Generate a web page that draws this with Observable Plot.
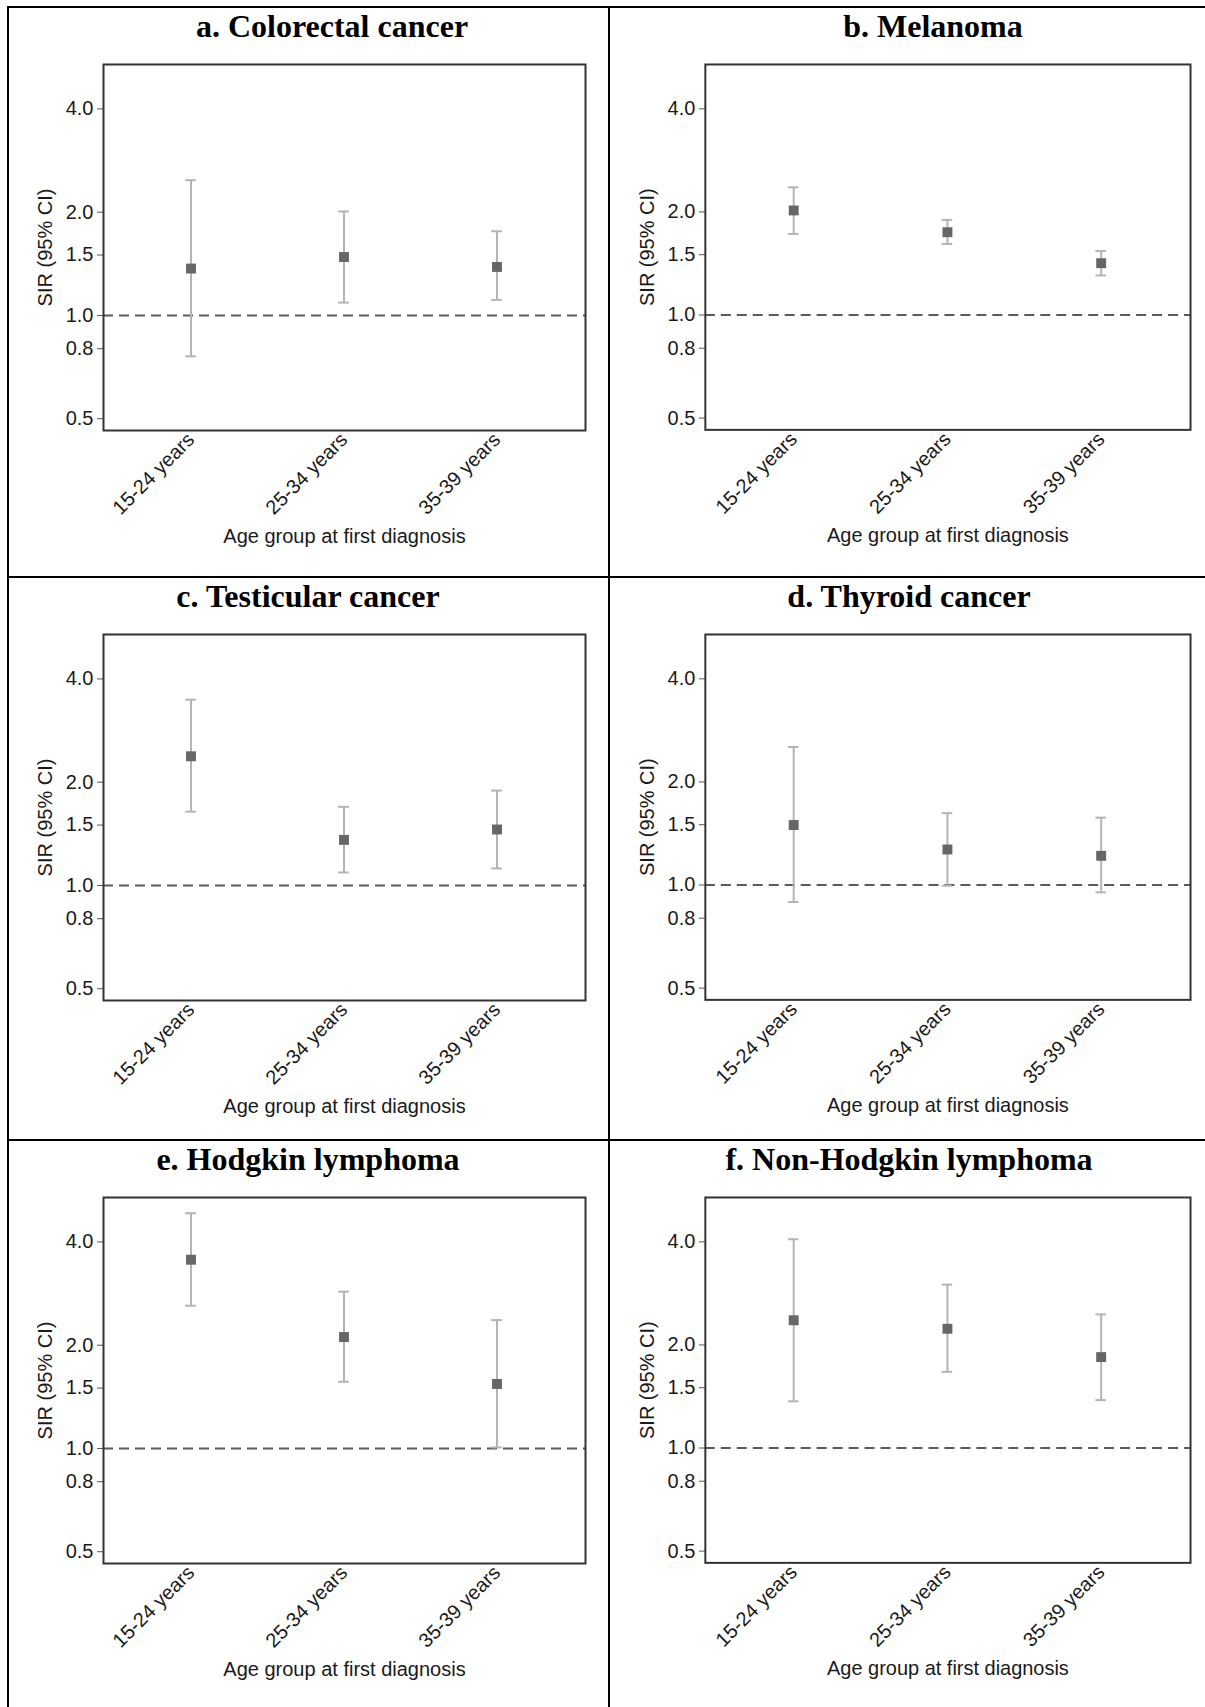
<!DOCTYPE html>
<html><head><meta charset="utf-8">
<script src="https://cdn.jsdelivr.net/npm/d3@7"></script>
<script src="https://cdn.jsdelivr.net/npm/@observablehq/plot@0.6"></script>
<style>
body{margin:0;background:#fff;}
#fig{position:relative;width:1205px;height:1707px;overflow:hidden;background:#fff;}
.line{position:absolute;background:#000;}
.title{position:absolute;font-family:"Liberation Serif","Times New Roman",serif;font-weight:bold;font-size:32px;line-height:32px;text-align:center;color:#000;white-space:nowrap;width:500px;}
.panel{position:absolute;}
.panel svg{overflow:visible;}
</style></head><body><div id="fig"></div><script>
// ---- data ----
const ageGroups = ["15-24 years", "25-34 years", "35-39 years"];
const panelTitles = ["a. Colorectal cancer", "b. Melanoma", "c. Testicular cancer", "d. Thyroid cancer", "e. Hodgkin lymphoma", "f. Non-Hodgkin lymphoma"];
const yTicks = [0.5, 0.8, 1.0, 1.5, 2.0, 4.0];

const sirColorectal = [1.37, 1.48, 1.385];
const loColorectal  = [0.76, 1.09, 1.11];
const hiColorectal  = [2.48, 2.01, 1.76];

const sirMelanoma = [2.02, 1.745, 1.417];
const loMelanoma  = [1.725, 1.613, 1.305];
const hiMelanoma  = [2.36, 1.896, 1.538];

const sirTesticular = [2.38, 1.358, 1.456];
const loTesticular  = [1.641, 1.091, 1.121];
const hiTesticular  = [3.48, 1.695, 1.891];

const sirThyroid = [1.497, 1.27, 1.217];
const loThyroid  = [0.892, 0.995, 0.952];
const hiThyroid  = [2.53, 1.621, 1.573];

const sirHodgkin = [3.55, 2.112, 1.542];
const loHodgkin  = [2.607, 1.565, 1.007];
const hiHodgkin  = [4.85, 2.864, 2.367];

const sirNHL = [2.361, 2.23, 1.843];
const loNHL  = [1.369, 1.669, 1.38];
const hiNHL  = [4.07, 3.0, 2.456];

const series = [
  [sirColorectal, loColorectal, hiColorectal],
  [sirMelanoma, loMelanoma, hiMelanoma],
  [sirTesticular, loTesticular, hiTesticular],
  [sirThyroid, loThyroid, hiThyroid],
  [sirHodgkin, loHodgkin, hiHodgkin],
  [sirNHL, loNHL, hiNHL]
];

// ---- layout ----
const fig = document.getElementById("fig");
function addLine(l, t, w, h) {
  const d = document.createElement("div");
  d.className = "line";
  Object.assign(d.style, {left: l + "px", top: t + "px", width: w + "px", height: h + "px"});
  fig.appendChild(d);
}
addLine(7, 6, 1198, 2);
addLine(7, 6, 2, 1701);
addLine(608, 6, 2, 1701);
addLine(7, 576, 1198, 2);
addLine(7, 1139, 1198, 2);

const frameLeft = [103, 705];
const frameWidth = [482, 486];
const frameTop = [64, 634, 1197];
const titleCenter = [332, 933, 308, 909, 308, 909];
const frameH = 366;
const mL = 95, mR = 15, mT = 10, mB = 135;
const padInner = 0.9, padOuter = 0.525;
const capW = 11;

series.forEach(([sir, lo, hi], i) => {
  const col = i % 2, row = Math.floor(i / 2);
  const fx = frameLeft[col], fw = frameWidth[col], fy = frameTop[row];
  const data = ageGroups.map((a, k) => ({age: a, sir: sir[k], lo: lo[k], hi: hi[k]}));
  const step = fw / (3 - padInner + 2 * padOuter);
  const bw = step * (1 - padInner);
  const inset = (bw - capW) / 2;

  const t = document.createElement("div");
  t.className = "title";
  t.textContent = panelTitles[i];
  Object.assign(t.style, {left: (titleCenter[i] - 250) + "px", top: (fy - 54) + "px"});
  fig.appendChild(t);

  const chart = Plot.plot({
    width: fw + mL + mR,
    height: frameH + mT + mB,
    marginLeft: mL, marginRight: mR, marginTop: mT, marginBottom: mB,
    style: {fontFamily: "'Liberation Sans', Arial, sans-serif", fontSize: "20px", color: "#1a1a1a", background: "transparent"},
    x: {type: "band", domain: ageGroups, paddingInner: padInner, paddingOuter: padOuter},
    y: {type: "log", domain: [0.462, 5.39]},
    marks: [
      Plot.ruleY([1], {stroke: "#5a5a5a", strokeWidth: 2, strokeDasharray: "10,6"}),
      Plot.ruleX(data, {x: "age", y1: "lo", y2: "hi", stroke: "#b4b4b4", strokeWidth: 2}),
      Plot.tickY(data, {x: "age", y: "lo", stroke: "#b4b4b4", strokeWidth: 2, insetLeft: inset, insetRight: inset}),
      Plot.tickY(data, {x: "age", y: "hi", stroke: "#b4b4b4", strokeWidth: 2, insetLeft: inset, insetRight: inset}),
      Plot.dot(data, {x: "age", y: "sir", symbol: "square", fill: "#666", r: 5.6}),
      Plot.axisY({ticks: yTicks, tickFormat: d => d.toFixed(1), tickSize: 6, tickPadding: 4, stroke: "#555", fontSize: 20,
        label: "SIR (95% CI)", labelAnchor: "center", labelArrow: "none", labelOffset: 66}),
      Plot.axisX({tickRotate: -45, tickSize: 0, tickPadding: 6, fontSize: 20,
        label: "Age group at first diagnosis", labelAnchor: "center", labelArrow: "none", labelOffset: 112}),
      Plot.frame({stroke: "#333", strokeWidth: 2})
    ]
  });
  const p = document.createElement("div");
  p.className = "panel";
  Object.assign(p.style, {left: (fx - mL) + "px", top: (fy - mT) + "px"});
  p.appendChild(chart);
  fig.appendChild(p);
});
</script></body></html>
